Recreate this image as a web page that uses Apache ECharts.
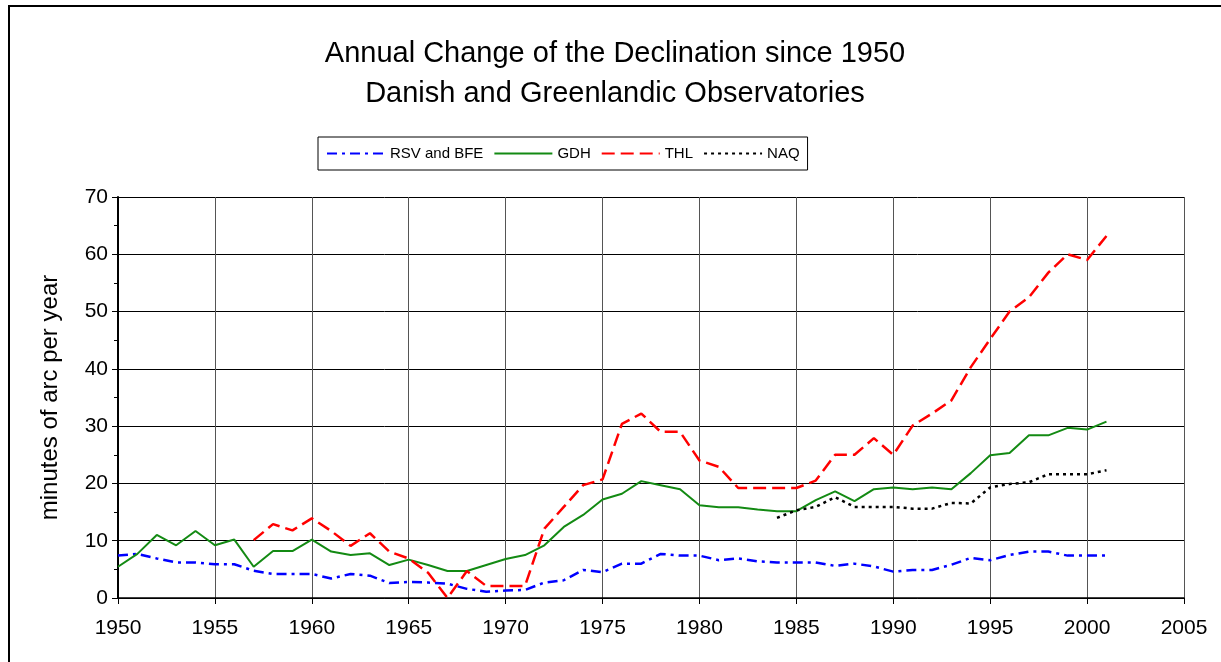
<!DOCTYPE html>
<html>
<head>
<meta charset="utf-8">
<style>
  html, body { margin: 0; padding: 0; background: #fff; }
  #chart-container { width: 1221px; height: 662px; }
</style>
<script src="https://cdn.jsdelivr.net/npm/echarts@6/dist/echarts.min.js"></script>
</head>
<body>
<div id="chart-container"></div>
<script>
// years 1950..2001
var years = [];
for (var y = 1950; y <= 2001; y++) years.push(y);

var rsvBfe = [7.4, 7.7, 6.9, 6.2, 6.2, 5.9, 5.9, 4.75, 4.2, 4.2,
  4.2, 3.4, 4.2, 3.9, 2.6, 2.8, 2.7, 2.5, 1.6, 1.1,
  1.3, 1.4, 2.7, 3.1, 4.9, 4.5, 6.0, 6.0, 7.7, 7.4,
  7.4, 6.6, 6.9, 6.4, 6.2, 6.2, 6.2, 5.6, 6.0, 5.5,
  4.6, 4.9, 4.9, 5.8, 7.0, 6.6, 7.5, 8.1, 8.1, 7.4,
  7.4, 7.4];

var gdh = [5.45, 7.7, 11.0, 9.2, 11.7, 9.2, 10.2, 5.45, 8.2, 8.2,
  10.2, 8.1, 7.5, 7.8, 5.75, 6.7, 5.75, 4.7, 4.7, 5.75,
  6.8, 7.5, 9.2, 12.4, 14.5, 17.2, 18.2, 20.4, 19.7, 19.0,
  16.2, 15.85, 15.85, 15.45, 15.15, 15.15, 17.1, 18.6, 16.9, 19.0,
  19.3, 19.0, 19.3, 19.0, 21.8, 24.9, 25.3, 28.4, 28.4, 29.7,
  29.4, 30.8];

var thl = [null, null, null, null, null, null, null, 10.1, 12.9, 11.8,
  13.9, 11.7, 9.1, 11.3, 8.1, 6.9, 4.4, 0, 4.7, 2.1,
  2.1, 2.1, 12.1, 15.9, 19.7, 20.7, 30.4, 32.2, 29.0, 29.0,
  24.0, 22.9, 19.2, 19.2, 19.2, 19.2, 20.5, 25.0, 25.0, 27.9,
  25.0, 30.1, 32.2, 34.5, 40.3, 45.2, 50.0, 52.5, 56.8, 60.0,
  59.0, 63.2];

var naq = [null, null, null, null, null, null, null, null, null, null,
  null, null, null, null, null, null, null, null, null, null,
  null, null, null, null, null, null, null, null, null, null,
  null, null, null, null, 14.0, 15.3, 15.9, 17.6, 15.9, 15.9,
  15.9, 15.6, 15.6, 16.6, 16.5, 19.3, 19.9, 20.2, 21.6, 21.6,
  21.6, 22.3];

function pairs(vals) {
  return years.map(function (yr, i) { return [yr, vals[i]]; });
}

var FONT = "Arial, 'Liberation Sans', sans-serif";

var dom = document.getElementById("chart-container");
var myChart = echarts.init(dom, null, { renderer: "canvas" });

var option = {
  backgroundColor: "#fff",
  animation: false,
  textStyle: { fontFamily: FONT, color: "#000" },
  graphic: [
    {
      type: "rect",
      shape: { x: 9, y: 6, width: 1300, height: 700 },
      style: { fill: "none", stroke: "#000", lineWidth: 2 },
      silent: true,
    },
  ],
  title: {
    text: "Annual Change of the Declination since 1950\nDanish and Greenlandic Observatories",
    left: 610,
    top: 29,
    textAlign: "center",
    textStyle: {
      fontFamily: FONT,
      fontSize: 29,
      fontWeight: "normal",
      color: "#000",
      lineHeight: 40,
    },
  },
  legend: {
    left: 318,
    top: 137,
    itemWidth: 58,
    itemHeight: 14,
    itemGap: 10,
    padding: [9, 8],
    borderColor: "#000",
    borderWidth: 1,
    backgroundColor: "#fff",
    itemStyle: { opacity: 0 },
    textStyle: { fontFamily: FONT, fontSize: 15, color: "#000" },
    data: ["RSV and BFE", "GDH", "THL", "NAQ"],
  },
  grid: {
    left: 118,
    right: 37,
    top: 197,
    bottom: 64,
    outerBoundsMode: "none",
  },
  xAxis: {
    type: "value",
    min: 1950,
    max: 2005,
    interval: 5,
    axisLine: { lineStyle: { color: "#000", width: 1.5 } },
    axisTick: { show: true, length: 6, lineStyle: { color: "#000" } },
    axisLabel: {
      margin: 20,
      fontFamily: FONT,
      fontSize: 21,
      color: "#000",
      formatter: function (v) { return String(v); },
    },
    splitLine: { show: true, lineStyle: { color: "#555", width: 1 } },
  },
  yAxis: {
    type: "value",
    min: 0,
    max: 70,
    interval: 10,
    name: "minutes of arc per year",
    nameLocation: "middle",
    nameRotate: 90,
    nameGap: 56,
    nameTextStyle: { fontFamily: FONT, fontSize: 24, color: "#000" },
    axisLine: { show: true, lineStyle: { color: "#000", width: 2 } },
    axisTick: { show: true, length: 6, lineStyle: { color: "#000" } },
    minorTick: { show: true, splitNumber: 2, length: 4, lineStyle: { color: "#000" } },
    axisLabel: { margin: 10, fontFamily: FONT, fontSize: 21, color: "#000" },
    splitLine: { show: true, lineStyle: { color: "#000", width: 1 } },
  },
  tooltip: { trigger: "axis" },
  series: [
    {
      name: "RSV and BFE",
      type: "line",
      symbol: "none",
      data: pairs(rsvBfe),
      color: "#0000ff",
      lineStyle: { color: "#0000ff", width: 2.5, type: [10, 5, 3, 5] },
    },
    {
      name: "GDH",
      type: "line",
      symbol: "none",
      data: pairs(gdh),
      color: "#138a13",
      lineStyle: { color: "#138a13", width: 2 },
    },
    {
      name: "THL",
      type: "line",
      symbol: "none",
      data: pairs(thl),
      color: "#ff0000",
      lineStyle: { color: "#ff0000", width: 2.5, type: [13, 6] },
    },
    {
      name: "NAQ",
      type: "line",
      symbol: "none",
      data: pairs(naq),
      color: "#000000",
      lineStyle: { color: "#000000", width: 2.5, type: [3, 4] },
    },
  ],
};

myChart.setOption(option);
window.addEventListener("resize", myChart.resize);
</script>
</body>
</html>
